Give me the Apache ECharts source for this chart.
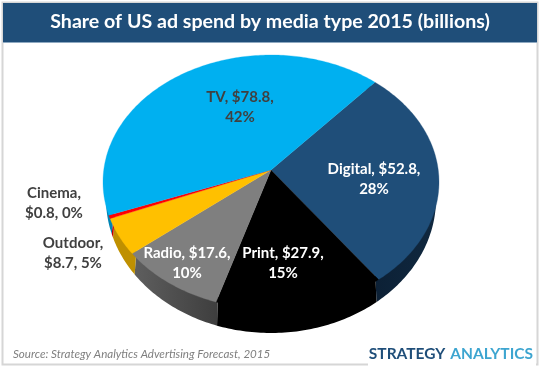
<!DOCTYPE html>
<html>
<head>
<meta charset="utf-8">
<style>html,body{margin:0;padding:0;background:#fff}#chart{width:540px;height:368px}</style>
<script src="https://cdn.jsdelivr.net/npm/echarts@6/dist/echarts.min.js"></script>
</head>
<body>
<div id="chart"></div>
<script>
// slices run clockwise starting from the TV / Digital edge
var categories = ['Digital', 'Print', 'Radio', 'Outdoor', 'Cinema', 'TV'];
var spend = [52.8, 27.9, 17.6, 8.7, 0.8, 78.8];
var percents = [28, 15, 10, 5, 0, 42];

var faceColors = ['#1f4e79', '#000000', '#7f7f7f', '#ffc000', '#ff0000', '#00b0f0'];
var wallColors = [
    {type: 'linear', x: 1, y: 0, x2: 0, y2: 0, colorStops: [{offset: 0, color: '#10283f'}, {offset: 1, color: '#0c2035'}]},
    '#000000',
    {type: 'linear', x: 0, y: 0, x2: 1, y2: 0, colorStops: [{offset: 0, color: '#5e5e5e'}, {offset: 1, color: '#3e3e3e'}]},
    '#bf9000', '#bf0000', '#0084b4'
];
var labelColors = ['#ffffff', '#ffffff', '#ffffff', '#404040', '#404040', '#404040'];
// label centres, placed by hand like the original
var labelSpots = [[374, 179], [283, 263], [187, 263], [73, 253], [54, 203], [240, 107]];

// the pie is tilted: top and bottom rims differ, and the apex sits off centre
var topRim = {cx: 271, cy: 182, rx: 168, ry: 127};
var hiddenRim = {cx: 271, cy: 182, rx: 163, ry: 122};
var bottomRim = {cx: 271, cy: 199, rx: 165, ry: 134};
var tilt = -0.0945;
var startAngle = -48.3 * Math.PI / 180;
var total = spend.reduce(function(a, b) { return a + b; }, 0);

function project(angle, rim) {
    var u = Math.cos(angle), v = Math.sin(angle);
    var d = 1 + tilt * v;
    return [
        rim.cx + rim.rx * u * Math.sqrt(1 - tilt * tilt) / d,
        rim.cy + rim.ry * (v + tilt) / d
    ];
}

function arc(a0, a1, rim) {
    var pts = [];
    var n = Math.max(2, Math.ceil((a1 - a0) * 60));
    for (var i = 0; i <= n; i++) {
        pts.push(project(a0 + (a1 - a0) * i / n, rim));
    }
    return pts;
}

var cum = 0;
var sliceData = spend.map(function(v, i) {
    var a0 = startAngle + cum / total * Math.PI * 2;
    cum += v;
    return [i, a0, startAngle + cum / total * Math.PI * 2];
});

function renderWall(params, api) {
    var i = api.value(0);
    // wall reaches under the face so no white seam shows along the rim
    var inner = arc(api.value(1), api.value(2), hiddenRim);
    var bottom = arc(api.value(1), api.value(2), bottomRim).reverse();
    return {
        type: 'polygon',
        shape: {points: inner.concat(bottom)},
        style: {fill: wallColors[i]}
    };
}

function renderFace(params, api) {
    var i = api.value(0);
    var pts = arc(api.value(1), api.value(2), topRim);
    pts.push([topRim.cx, topRim.cy + topRim.ry * tilt]);
    return {
        type: 'polygon',
        shape: {points: pts},
        style: {fill: faceColors[i], stroke: faceColors[i], lineWidth: 0.3}
    };
}

function renderLabel(params, api) {
    var i = api.value(0);
    var firstLine = categories[i] + ',';
    var text = categories[i] === 'Cinema' || categories[i] === 'Outdoor'
        ? firstLine + '\n$' + spend[i].toFixed(1) + ', ' + percents[i] + '%'
        : firstLine + ' $' + spend[i].toFixed(1) + ',\n' + percents[i] + '%';
    return {
        type: 'text',
        x: labelSpots[i][0],
        y: labelSpots[i][1],
        style: {
            text: text,
            fill: labelColors[i],
            font: 'bold 15px Lato',
            lineHeight: 20,
            align: 'center',
            verticalAlign: 'middle'
        }
    };
}

var chart = echarts.init(document.getElementById('chart'), null, {renderer: 'canvas'});

chart.setOption({
    animation: false,
    backgroundColor: '#ffffff',
    title: [
        {
            text: 'Share of US ad spend by media type 2015 (billions)',
            left: 270, top: 22, padding: 0, textAlign: 'center', textVerticalAlign: 'middle',
            textStyle: {color: '#ffffff', fontFamily: 'Lato', fontWeight: 'bold', fontSize: 19.6}
        },
        {
            text: 'Source: Strategy Analytics Advertising Forecast, 2015',
            left: 13, top: 354, padding: 0, textVerticalAlign: 'middle',
            textStyle: {color: '#7f7f7f', fontFamily: 'Lato', fontStyle: 'italic', fontWeight: 'normal', fontSize: 11.6}
        },
        {
            text: '{a|STRATEGY} {b|ANALYTICS}',
            right: 7, top: 354, padding: 0, textVerticalAlign: 'middle',
            textStyle: {
                rich: {
                    a: {color: '#1f4e79', fontFamily: 'Lato', fontWeight: 'bold', fontSize: 15.5},
                    b: {color: '#3da5d0', fontFamily: 'Lato', fontWeight: 'bold', fontSize: 15.5}
                }
            }
        }
    ],
    graphic: [
        {type: 'rect', z: -10, shape: {x: 2.5, y: 2.5, width: 535, height: 362}, style: {fill: '#fff', stroke: '#d6d6d6', lineWidth: 2}},
        {type: 'rect', z: -9, shape: {x: 3, y: 3, width: 534, height: 39}, style: {fill: '#1f4e79'}},
        {type: 'rect', z: -9, shape: {x: 3, y: 42, width: 534, height: 1}, style: {fill: '#8ea9c1'}},
        // logo box sits over the bottom frame line in the original
        {type: 'rect', z: -8, shape: {x: 368, y: 360, width: 168, height: 8}, style: {fill: '#ffffff'}}
    ],
    series: [
        {type: 'custom', coordinateSystem: 'none', z: 1, silent: true, data: sliceData, renderItem: renderWall},
        {type: 'custom', coordinateSystem: 'none', z: 2, silent: true, data: sliceData, renderItem: renderFace},
        {type: 'custom', coordinateSystem: 'none', z: 3, silent: true, data: sliceData, renderItem: renderLabel}
    ]
});
</script>
</body>
</html>
